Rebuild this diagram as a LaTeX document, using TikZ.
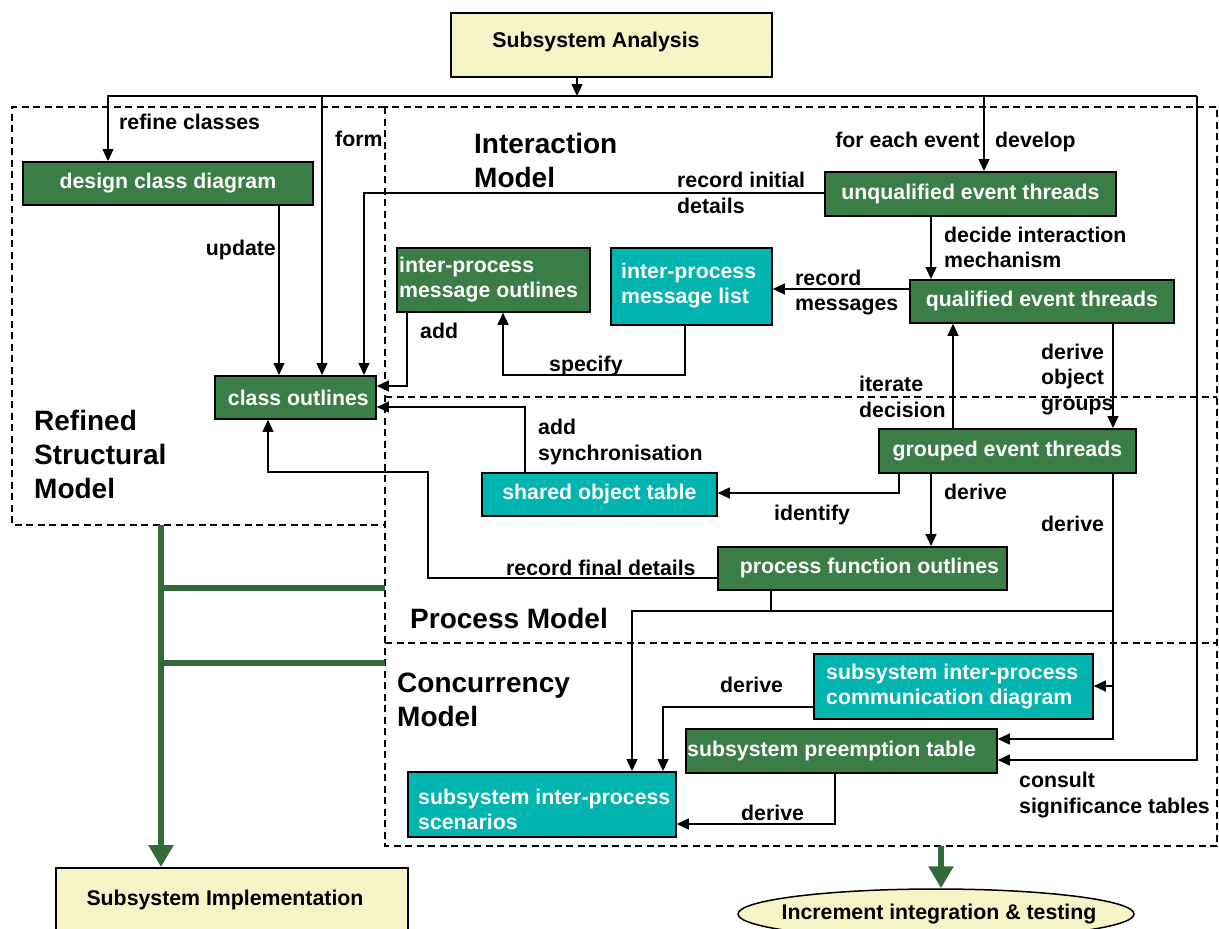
\documentclass[tikz,border=0pt]{standalone}
\usepackage{fontspec}
\setmainfont{Liberation Sans}
\usetikzlibrary{arrows.meta,shapes.geometric}

\definecolor{boxgreen}{RGB}{58,125,70}
\definecolor{boxteal}{RGB}{0,181,176}
\definecolor{boxcream}{RGB}{246,244,198}
\definecolor{flowgreen}{RGB}{51,105,59}

\tikzset{
  every node/.style={font=\bfseries\fontsize{21.3}{25.5}\selectfont},
  box/.style={draw=black, line width=1.8pt, inner sep=0pt, anchor=north west, text=white},
  gbox/.style={box, fill=boxgreen},
  tbox/.style={box, fill=boxteal},
  cbox/.style={box, fill=boxcream, text=black},
  intext/.style={anchor=west, align=left, inner sep=0pt, text=white},
  lbl/.style={anchor=west, align=left, inner sep=0pt, text=black},
  ttl/.style={anchor=west, align=left, inner sep=0pt, text=black,
              font=\bfseries\fontsize{28}{34}\selectfont},
  zone/.style={line width=1.6pt, dash pattern=on 7pt off 4.5pt},
  ln/.style={line width=1.3pt},
  arr/.style={ln, -{Triangle[length=12pt,width=11pt]}},
  gline/.style={line width=5.5pt, draw=flowgreen},
  garr/.style={gline, -{Triangle[length=22pt,width=24pt]}}
}

\begin{document}
\begin{tikzpicture}[x=1pt,y=-1pt]
\useasboundingbox (0,0) rectangle (1219,929);
\clip (0,0) rectangle (1219,929);
\fill[white] (0,0) rectangle (1219,929);

% model zones
\draw[zone] (385,107) -- (12,107) -- (12,525) -- (385,525);
\draw[zone] (385,107) rectangle (1217,846);
\draw[zone] (385,397) -- (1217,397);
\draw[zone] (385,643) -- (1217,643);

% zone titles
\node[ttl] (tInter) at (474,160) {Interaction\\Model};
\node[ttl] (tRefined) at (34,454) {Refined\\Structural\\Model};
\node[ttl] (tProc) at (410,618) {Process Model};
\node[ttl] (tConc) at (397,700) {Concurrency\\Model};

% boxes
\node[cbox, minimum width=321pt, minimum height=64pt] (sa) at (450,12) {};
\node[lbl, anchor=center] (saT) at (596,41.5) {Subsystem Analysis};

\node[gbox, minimum width=290pt, minimum height=43pt] (dcd) at (22,161) {design class diagram};
\node[gbox, minimum width=161pt, minimum height=43pt] (co) at (214,375) {\hspace*{6pt}class outlines};
\node[gbox, minimum width=193pt, minimum height=64pt] (ipmo) at (396,247) {};
\node[intext] (ipmoT) at (399,279.5) {inter-process\\message outlines};
\node[tbox, minimum width=161pt, minimum height=77pt] (ipml) at (610,247) {};
\node[intext] (ipmlT) at (621,285.5) {inter-process\\message list};
\node[gbox, minimum width=291pt, minimum height=44pt] (uet) at (824,171) {unqualified event threads};
\node[gbox, minimum width=264pt, minimum height=43pt] (qet) at (909,279) {qualified event threads};
\node[gbox, minimum width=257pt, minimum height=44pt] (get) at (878,428) {grouped event threads};
\node[tbox, minimum width=235pt, minimum height=43pt] (sot) at (481,472) {shared object table};
\node[gbox, minimum width=289pt, minimum height=43pt] (pfo) at (717,546) {\hspace*{14pt}process function outlines};
\node[tbox, minimum width=279pt, minimum height=65pt] (cd) at (813,653) {};
\node[intext] (cdT) at (826,686.5) {subsystem inter-process\\communication diagram};
\node[gbox, minimum width=311pt, minimum height=44pt] (pst) at (685,728) {};
\node[intext] (pstT) at (687,751) {subsystem preemption table};
\node[tbox, minimum width=268pt, minimum height=65pt] (scen) at (407,771) {};
\node[intext] (scenT) at (418,809.5) {subsystem inter-process\\scenarios};

\node[cbox, minimum width=352pt, minimum height=90pt] (si) at (55,867) {};
\node[lbl, anchor=center] (siT) at (225,900) {Subsystem Implementation};
\node[ellipse, draw=black, line width=1.5pt, fill=boxcream, inner sep=0pt,
      minimum width=396pt, minimum height=50pt] (iit) at (936,914) {};
\node[lbl, anchor=center] (iitT) at (939,914) {Increment integration \& testing};

% helper points for routing
\coordinate (bus) at (577,96);
\coordinate (busL) at (108,96);
\coordinate (busR) at (1197,96);
\coordinate (xForm) at (322,96);
\coordinate (xDev) at (984,96);
\coordinate (cons) at (1197,760);
\coordinate (xUpd) at (279,0);
\coordinate (riA) at (364,193);
\coordinate (addA) at (407,386);
\coordinate (spA) at (685,375);
\coordinate (spB) at (503,375);
\coordinate (syA) at (525,407);
\coordinate (rfY) at (0,578);
\coordinate (rfA) at (428,578);
\coordinate (rfB) at (428,472);
\coordinate (rfC) at (268,472);
\coordinate (dcX) at (931,0);
\coordinate (rmY) at (0,289);
\coordinate (itX) at (953,0);
\coordinate (dgX) at (1113,0);
\coordinate (idA) at (899,493);
\coordinate (drA) at (1113,739);
\coordinate (drB) at (1113,686);
\coordinate (hA) at (1113,611);
\coordinate (hB) at (632,611);
\coordinate (hC) at (771,611);
\coordinate (cdA) at (663,707);
\coordinate (psA) at (835,824);

% connectors from the analysis stage
\draw[arr] (sa.south -| bus) -- (bus);
\draw[arr] (busR) -- (busL) -- (dcd.north -| busL);
\draw[arr] (busR) -- (cons) -- (pst.east |- cons);
\draw[arr] (xForm) -- (co.north -| xForm);
\draw[arr] (xDev) -- (uet.north -| xDev);

% structural model
\draw[arr] (dcd.south -| xUpd) -- (co.north -| xUpd);
\draw[arr] (uet.west |- riA) -- (riA) -- (co.north -| riA);
\draw[arr] (ipmo.south -| addA) -- (addA) -- (co.east |- addA);
\draw[arr] (ipml.south -| spA) -- (spA) -- (spB) -- (ipmo.south -| spB);
\draw[arr] (sot.north -| syA) -- (syA) -- (co.east |- syA);
\draw[arr] (pfo.west |- rfY) -- (rfA) -- (rfB) -- (rfC) -- (co.south -| rfC);

% interaction model
\draw[arr] (uet.south -| dcX) -- (qet.north -| dcX);
\draw[arr] (qet.west |- rmY) -- (ipml.east |- rmY);
\draw[arr] (get.north -| itX) -- (qet.south -| itX);
\draw[arr] (qet.south -| dgX) -- (get.north -| dgX);

% process model
\draw[arr] (get.south -| idA) -- (idA) -- (sot.east |- idA);
\draw[arr] (get.south -| dcX) -- (pfo.north -| dcX);
\draw[arr] (get.south -| dgX) -- (drA) -- (pst.east |- drA);
\draw[arr] (drB) -- (cd.east |- drB);
\draw[arr] (hA) -- (hB) -- (scen.north -| hB);
\draw[ln] (pfo.south -| hC) -- (hC);

% concurrency model
\draw[arr] (cd.west |- cdA) -- (cdA) -- (scen.north -| cdA);
\draw[arr] (pst.south -| psA) -- (psA) -- (scen.east |- psA);

% flow to the next stages
\coordinate (gA) at (161,525);
\coordinate (gB) at (161,588);
\coordinate (gC) at (161,663);
\coordinate (gB2) at (385,588);
\coordinate (gC2) at (385,663);
\coordinate (gD) at (941,846);
\draw[gline] (gB) -- (gB2);
\draw[gline] (gC) -- (gC2);
\draw[garr] (gA) -- (si.north -| gA);
\draw[garr] (gD) -- (iit.north -| gD);

% connector labels
\node[lbl] (lRefine) at (119,121.5) {refine classes};
\node[lbl] (lForm) at (335,139) {form};
\node[lbl, anchor=east] (lUpd) at (276,249.5) {update};
\node[lbl, anchor=east] (lEach) at (980,139.5) {for each event};
\node[lbl] (lDev) at (995,141.5) {develop};
\node[lbl] (lRec) at (677,193) {record initial\\details};
\node[lbl] (lDec) at (944,247.5) {decide interaction\\mechanism};
\node[lbl] (lMsg) at (795,292.5) {record\\messages};
\node[lbl] (lAdd) at (420,330.5) {add};
\node[lbl] (lSpec) at (549,366) {specify};
\node[lbl] (lIter) at (859,397) {iterate\\decision};
\node[lbl] (lGrp) at (1041,379.5) {derive\\object\\groups};
\node[lbl] (lSync) at (538,442) {add\\synchronisation};
\node[lbl] (lIdent) at (774,514.5) {identify};
\node[lbl] (lDer1) at (944,491.5) {derive};
\node[lbl] (lDer2) at (1041,523.5) {derive};
\node[lbl] (lFinal) at (506,567.5) {record final details};
\node[lbl] (lDer3) at (720,684.5) {derive};
\node[lbl] (lDer4) at (741,812.5) {derive};
\node[lbl] (lCons) at (1019,795) {consult\\significance tables};
\end{tikzpicture}
\end{document}
